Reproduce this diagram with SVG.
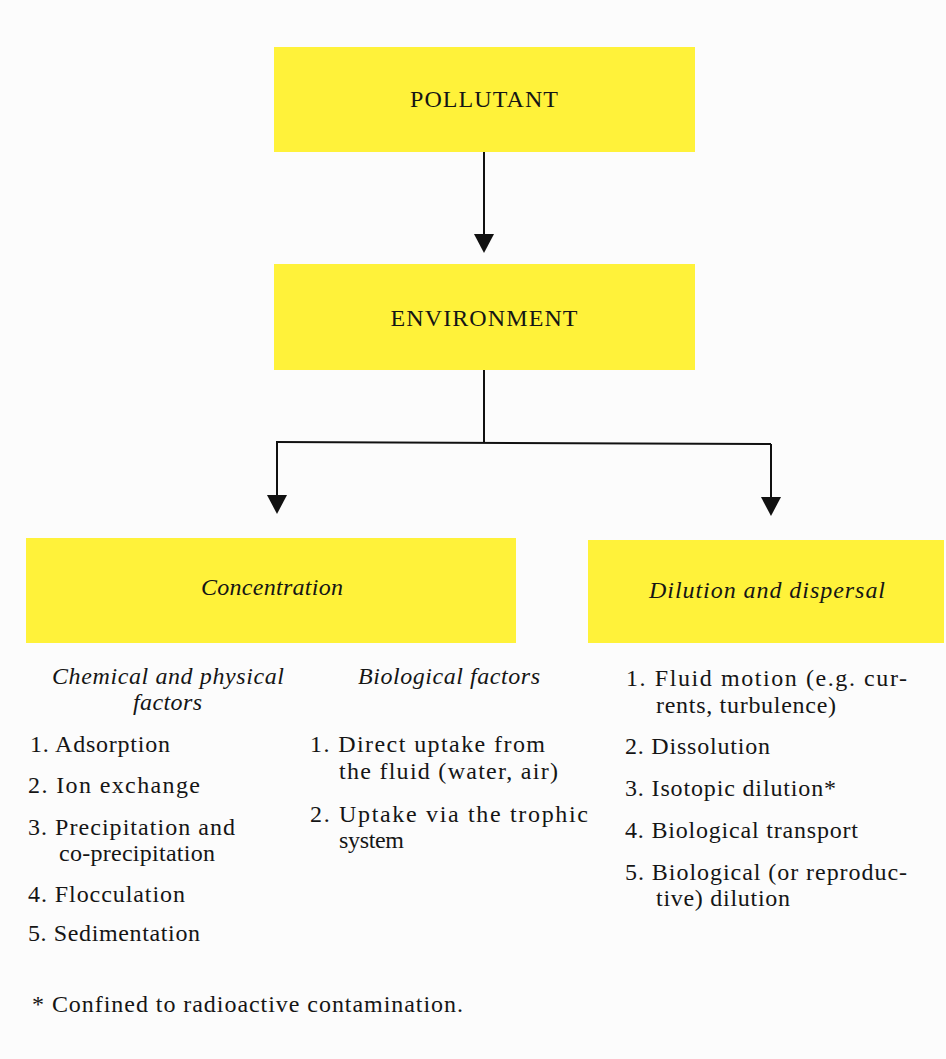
<svg xmlns="http://www.w3.org/2000/svg" width="946" height="1059" viewBox="0 0 946 1059">
<defs>
<style>
.box{fill:#fff23a;}
.t{font-family:"Liberation Serif","Times New Roman",serif;font-size:24px;fill:#151515;}
.i{font-style:italic;}
.ln{stroke:#111;stroke-width:2;fill:none;}
.ah{fill:#111;}
</style>
</defs>
<rect width="946" height="1059" fill="#fcfcfc"/>
<g id="connectors">
<line class="ln" x1="484" y1="152" x2="484" y2="236"/>
<path class="ah" d="M474,234 L494,234 L484,253 Z"/>
<line class="ln" x1="484" y1="370" x2="484" y2="442"/>
<line class="ln" x1="276" y1="442" x2="771" y2="444"/>
<line class="ln" x1="277" y1="442" x2="277" y2="497"/>
<line class="ln" x1="771" y1="444" x2="771" y2="499"/>
<path class="ah" d="M267,495 L287,495 L277,514 Z"/>
<path class="ah" d="M761,497 L781,497 L771,516 Z"/>
</g>
<g id="pollutant">
<rect class="box" x="274" y="47" width="421" height="105"/>
<text class="t" x="484" y="107" text-anchor="middle" textLength="148" lengthAdjust="spacing">POLLUTANT</text>
</g>
<g id="environment">
<rect class="box" x="274" y="264" width="421" height="106"/>
<text class="t" x="484" y="326" text-anchor="middle" textLength="187" lengthAdjust="spacing">ENVIRONMENT</text>
</g>
<g id="concentration">
<rect class="box" x="26" y="538" width="490" height="105"/>
<text class="t i" x="272" y="595" text-anchor="middle" textLength="142" lengthAdjust="spacing">Concentration</text>
</g>
<g id="dilution">
<rect class="box" x="588" y="540" width="356" height="103"/>
<text class="t i" x="767" y="598" text-anchor="middle" textLength="236" lengthAdjust="spacing">Dilution and dispersal</text>
</g>
<g id="chemical-factors">
<text class="t i" x="52" y="684" textLength="232" lengthAdjust="spacing">Chemical and physical</text>
<text class="t i" x="133" y="710" textLength="69" lengthAdjust="spacing">factors</text>
<text class="t" x="30" y="752" textLength="140" lengthAdjust="spacing">1. Adsorption</text>
<text class="t" x="28" y="793" textLength="172" lengthAdjust="spacing">2. Ion exchange</text>
<text class="t" x="28" y="835" textLength="207" lengthAdjust="spacing">3. Precipitation and</text>
<text class="t" x="59" y="861" textLength="156" lengthAdjust="spacing">co-precipitation</text>
<text class="t" x="28" y="902" textLength="157" lengthAdjust="spacing">4. Flocculation</text>
<text class="t" x="28" y="941" textLength="172" lengthAdjust="spacing">5. Sedimentation</text>
</g>
<g id="biological-factors">
<text class="t i" x="358" y="684" textLength="182" lengthAdjust="spacing">Biological factors</text>
<text class="t" x="310" y="752" textLength="235" lengthAdjust="spacing">1. Direct uptake from</text>
<text class="t" x="339" y="779" textLength="219" lengthAdjust="spacing">the fluid (water, air)</text>
<text class="t" x="310" y="822" textLength="278" lengthAdjust="spacing">2. Uptake via the trophic</text>
<text class="t" x="339" y="848" textLength="65" lengthAdjust="spacing">system</text>
</g>
<g id="dilution-factors">
<text class="t" x="626" y="686" textLength="281" lengthAdjust="spacing">1. Fluid motion (e.g. cur-</text>
<text class="t" x="656" y="713" textLength="180" lengthAdjust="spacing">rents, turbulence)</text>
<text class="t" x="625" y="754" textLength="145" lengthAdjust="spacing">2. Dissolution</text>
<text class="t" x="625" y="796" textLength="211" lengthAdjust="spacing">3. Isotopic dilution*</text>
<text class="t" x="625" y="838" textLength="233" lengthAdjust="spacing">4. Biological transport</text>
<text class="t" x="625" y="880" textLength="282" lengthAdjust="spacing">5. Biological (or reproduc-</text>
<text class="t" x="656" y="906" textLength="134" lengthAdjust="spacing">tive) dilution</text>
</g>
<g id="footnote">
<text class="t" x="32" y="1012" textLength="431" lengthAdjust="spacing">* Confined to radioactive contamination.</text>
</g>
</svg>
